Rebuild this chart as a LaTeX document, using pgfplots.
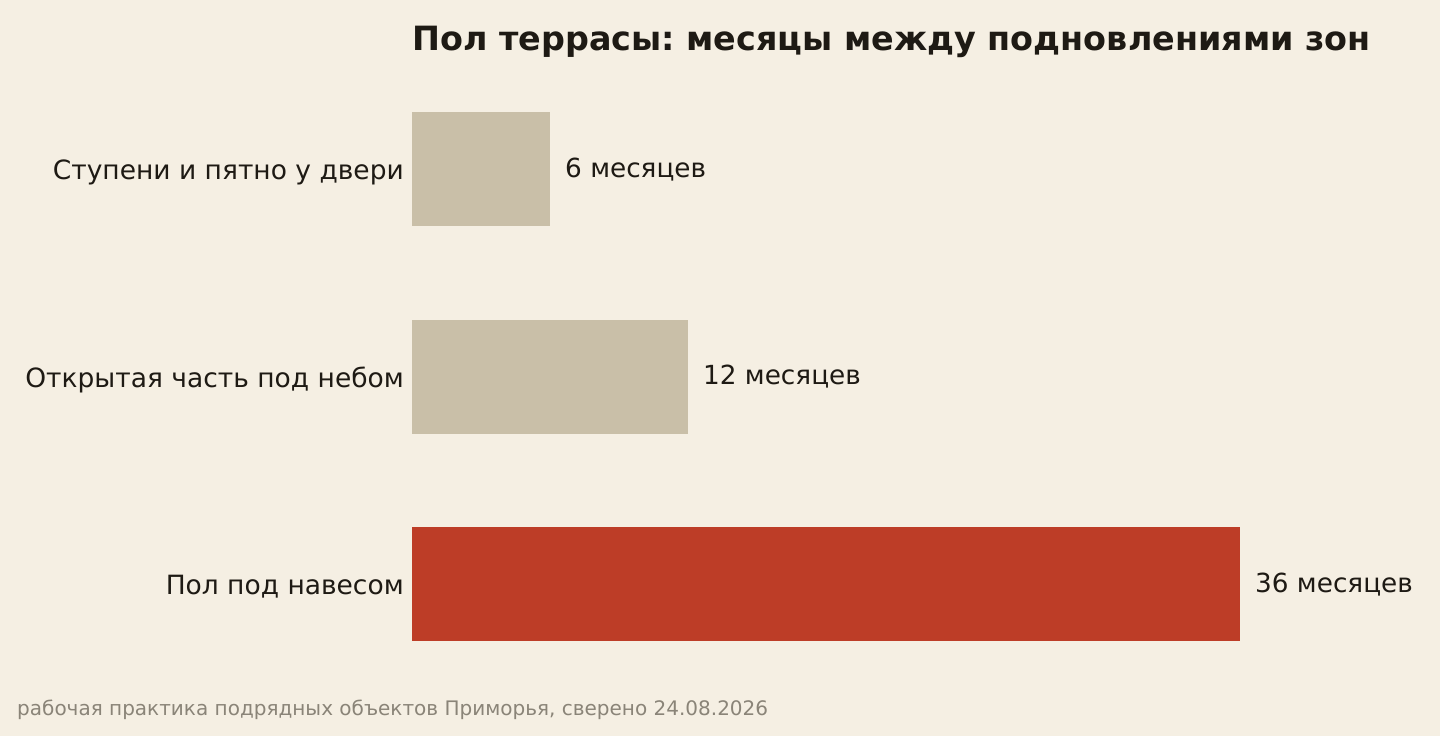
\documentclass[border=0pt]{standalone}
\usepackage{pgfplots}
\pgfplotsset{compat=1.18}
\usepackage{fontspec}
\setmainfont{DejaVu Sans}
\frenchspacing
\definecolor{bg}{HTML}{F5EFE3}
\definecolor{beige}{HTML}{C9BFA8}
\definecolor{brick}{HTML}{BD3D27}
\definecolor{ink}{HTML}{1E1A14}
\definecolor{foot}{HTML}{8A8478}

\begin{document}
\begin{tikzpicture}[x=1pt,y=1pt]
\fill[bg] (0,0) rectangle (1440,736);
\begin{axis}[
  at={(412pt,48.25pt)}, anchor=south west,
  scale only axis, width=828pt, height=622.5pt,
  xmin=0, xmax=36, ymin=-0.5, ymax=2.5, y dir=reverse,
  xbar, bar width=114pt, bar shift=0pt,
  axis line style={draw=none}, xtick=\empty,
  ytick={0,1,2}, major tick length=0pt,
  yticklabels={Ступени и пятно у двери, Открытая часть под небом, Пол под навесом},
  yticklabel style={font=\fontsize{26.5}{30}\selectfont, text=ink, inner sep=0pt, xshift=-8pt, yshift=-3pt},
  nodes near coords={\pgfmathprintnumber{\pgfplotspointmeta}~месяцев},
  point meta=x,
  every node near coord/.append style={font=\fontsize{26.3}{30}\selectfont, text=ink,
    inner sep=0pt, anchor=west, xshift=15pt, yshift=-0.5pt,
    /pgf/number format/assume math mode=true},
]
\addplot[fill=beige, draw=none] coordinates {(6,0)};
\addplot[fill=beige, draw=none] coordinates {(12,1)};
\addplot[fill=brick, draw=none] coordinates {(36,2)};
\end{axis}
\node[anchor=base west, inner sep=0pt, text=ink, font=\fontsize{33.4}{38}\selectfont\bfseries] at (412,685) {Пол террасы: месяцы между подновлениями зон};
\node[anchor=base west, inner sep=0pt, text=foot, font=\fontsize{20}{24}\selectfont] at (17,20.5) {рабочая практика подрядных объектов Приморья, сверено 24.08.2026};
\pgfresetboundingbox
\useasboundingbox (0,0) rectangle (1440,736);
\end{tikzpicture}
\end{document}
